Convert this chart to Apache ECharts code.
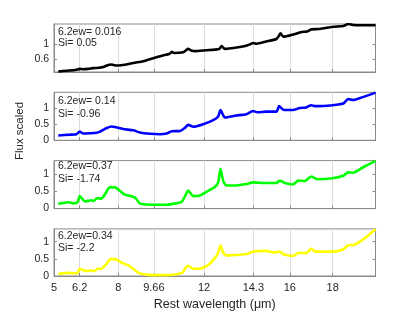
<!DOCTYPE html>
<html><head><meta charset="utf-8">
<script src="https://cdn.jsdelivr.net/npm/echarts@6/dist/echarts.min.js"></script>
<style>html,body{margin:0;padding:0;background:#fff}#c{width:415px;height:312px}</style>
</head><body><div id="c"></div>
<script>
// x tick labels (rest wavelength, micron)
const xTicks = [5, 6.2, 8, 9.66, 12, 14.3, 16, 18];
// y tick labels per panel
const yTicks1 = [0.6, 1];
const yTicks = [0, 0.5, 1];
// annotation texts
const ewLabels = ['6.2ew= 0.016', '6.2ew= 0.14', '6.2ew=0.37', '6.2ew=0.34'];
const siLabels = ['Si= 0.05', 'Si= -0.96', 'Si= -1.74', 'Si= -2.2'];
// spectra: [wavelength, scaled flux]
const specBlack = [[5.2,0.27],[5.6,0.29],[6.0,0.31],[6.13,0.33],[6.2,0.345],[6.35,0.33],[6.6,0.34],[6.83,0.36],[7.1,0.37],[7.3,0.39],[7.5,0.44],[7.65,0.46],[7.8,0.44],[8.0,0.43],[8.3,0.45],[8.7,0.50],[9.16,0.545],[9.4,0.59],[9.63,0.63],[10.0,0.69],[10.4,0.75],[10.5,0.80],[10.6,0.77],[11.03,0.79],[11.15,0.84],[11.26,0.88],[11.4,0.84],[11.57,0.82],[12.12,0.845],[12.5,0.86],[12.72,0.88],[12.82,0.96],[12.97,0.88],[13.3,0.9],[13.67,0.93],[14.0,0.97],[14.2,1.02],[14.3,1.04],[14.45,1.02],[14.9,1.08],[15.38,1.15],[15.5,1.24],[15.57,1.30],[15.7,1.21],[16.16,1.27],[16.55,1.34],[16.8,1.35],[17.0,1.41],[17.4,1.42],[18.02,1.48],[18.5,1.50],[18.72,1.555],[18.95,1.53],[19.3,1.52],[20.0,1.52]];
const specBlue = [[5.2,0.15],[5.75,0.175],[6.05,0.19],[6.2,0.27],[6.36,0.21],[6.7,0.22],[6.99,0.235],[7.15,0.27],[7.46,0.38],[7.69,0.43],[7.85,0.41],[8.23,0.35],[8.7,0.31],[9.0,0.245],[9.47,0.205],[9.94,0.19],[10.25,0.21],[10.49,0.28],[10.88,0.29],[11.1,0.38],[11.26,0.48],[11.5,0.42],[11.96,0.50],[12.43,0.625],[12.66,0.74],[12.77,0.94],[12.97,0.71],[13.5,0.77],[13.97,0.81],[14.28,0.91],[14.5,0.87],[14.9,0.89],[15.38,0.89],[15.5,1.06],[15.7,0.95],[16.15,0.94],[16.46,1.0],[16.77,1.02],[17.0,1.09],[17.2,1.06],[18.0,1.09],[18.5,1.14],[18.72,1.28],[18.95,1.25],[19.4,1.34],[20.0,1.48]];
const specGreen = [[5.2,0.14],[5.67,0.186],[5.9,0.15],[6.1,0.19],[6.2,0.36],[6.45,0.21],[6.75,0.24],[6.85,0.22],[7.0,0.30],[7.2,0.29],[7.37,0.405],[7.6,0.615],[7.85,0.615],[8.1,0.50],[8.3,0.405],[8.6,0.36],[8.8,0.31],[9.0,0.15],[9.3,0.12],[9.7,0.11],[10.25,0.11],[10.65,0.15],[10.95,0.19],[11.1,0.34],[11.26,0.52],[11.5,0.36],[11.8,0.38],[12.1,0.48],[12.5,0.625],[12.66,0.76],[12.77,1.15],[12.9,0.79],[13.05,0.67],[13.5,0.67],[13.97,0.71],[14.28,0.76],[14.9,0.74],[15.38,0.74],[15.53,0.81],[15.77,0.74],[16.15,0.70],[16.4,0.81],[16.7,0.80],[17.0,0.93],[17.3,0.85],[18.0,0.88],[18.5,0.95],[18.72,1.05],[18.95,1.04],[19.4,1.19],[20.0,1.38]];
const specYellow = [[5.2,0.06],[5.67,0.09],[5.9,0.08],[6.1,0.09],[6.2,0.21],[6.45,0.15],[6.75,0.16],[6.85,0.14],[7.05,0.21],[7.2,0.21],[7.42,0.33],[7.65,0.49],[7.85,0.49],[8.18,0.38],[8.5,0.30],[8.7,0.21],[8.95,0.09],[9.3,0.04],[9.8,0.025],[10.4,0.03],[10.7,0.05],[11.0,0.10],[11.15,0.25],[11.26,0.30],[11.5,0.21],[11.8,0.21],[12.2,0.32],[12.5,0.52],[12.66,0.67],[12.77,0.89],[12.9,0.67],[13.05,0.60],[13.67,0.62],[14.05,0.65],[14.28,0.71],[14.9,0.73],[15.3,0.68],[15.53,0.71],[15.7,0.63],[16.15,0.58],[16.4,0.67],[16.77,0.67],[17.0,0.79],[17.2,0.71],[18.0,0.71],[18.5,0.78],[18.72,0.89],[19.0,0.91],[19.4,1.05],[20.0,1.36]];

const spectra = [specBlack, specBlue, specGreen, specYellow];
const colors = ['#000000', '#0000ff', '#00ff00', '#ffff00'];
const yMin = [0.255, 0, 0, 0];
const yMax = [1.555, 1.49, 1.39, 1.37];
const tops = [24, 92.3, 160.6, 228.9];
const H = 48;
const font = 'Liberation Sans, Arial, Helvetica, sans-serif';
const axisCol = '#8a8a8a';
const txtCol = '#262626';

const grid = [], xAxis = [], yAxis = [], series = [], graphic = [];
for (let i = 0; i < 4; i++) {
  grid.push({left: 54, right: 39.5, top: tops[i], height: H, show: true, borderColor: axisCol, borderWidth: 1, backgroundColor: '#fff'});
  xAxis.push({type: 'value', gridIndex: i, min: 5, max: 20,
    axisLine: {show: true, onZero: false, lineStyle: {color: axisCol}},
    axisTick: {show: true, inside: true, length: 3, customValues: xTicks, lineStyle: {color: axisCol}},
    axisLabel: {show: i === 3, customValues: xTicks, color: txtCol, fontSize: 11, fontFamily: font, margin: 6},
    splitLine: {show: true, lineStyle: {color: '#dcdcdc', width: 1}},
    name: i === 3 ? 'Rest wavelength (\u03bcm)' : '', nameLocation: 'middle', nameGap: 22,
    nameTextStyle: {color: txtCol, fontSize: 12.5, fontFamily: font}
  });
  const yt = i === 0 ? yTicks1 : yTicks;
  yAxis.push({type: 'value', gridIndex: i, min: yMin[i], max: yMax[i],
    axisLine: {show: true, lineStyle: {color: axisCol}},
    axisTick: {show: true, inside: true, length: 3, customValues: yt, lineStyle: {color: axisCol}},
    axisLabel: {show: true, customValues: yt, color: txtCol, fontSize: 10.5, fontFamily: font, margin: 5},
    splitLine: {show: false}
  });
  yAxis.push({type: 'value', gridIndex: i, min: yMin[i], max: yMax[i], position: 'right',
    axisLine: {show: true, lineStyle: {color: axisCol}},
    axisTick: {show: true, inside: true, length: 3, customValues: yt, lineStyle: {color: axisCol}},
    axisLabel: {show: false}, splitLine: {show: false}
  });
  series.push({type: 'line', xAxisIndex: i, yAxisIndex: 2 * i, data: spectra[i], showSymbol: false,
    smooth: 0.2, lineStyle: {color: colors[i], width: 2.6}, itemStyle: {color: colors[i]}, animation: false, z: 3});
}
const ewTop = [27, 96, 161, 230.5];
const siTop = [38, 108.5, 174, 242.5];
for (let i = 0; i < 4; i++) {
  graphic.push({type: 'text', left: 58, top: ewTop[i], z: 10, style: {text: ewLabels[i], fill: txtCol, font: '10.5px ' + font}});
  graphic.push({type: 'text', left: 58, top: siTop[i], z: 10, style: {text: siLabels[i], fill: txtCol, font: '10.5px ' + font}});
}
graphic.push({type: 'text', x: 20, y: 131, rotation: Math.PI / 2, z: 10,
  style: {text: 'Flux scaled', fill: txtCol, font: '11.5px ' + font, align: 'center', verticalAlign: 'middle'}});

const chart = echarts.init(document.getElementById('c'), null, {renderer: 'canvas'});
chart.setOption({animation: false, backgroundColor: '#fff', grid, xAxis, yAxis, series, graphic});
</script></body></html>
